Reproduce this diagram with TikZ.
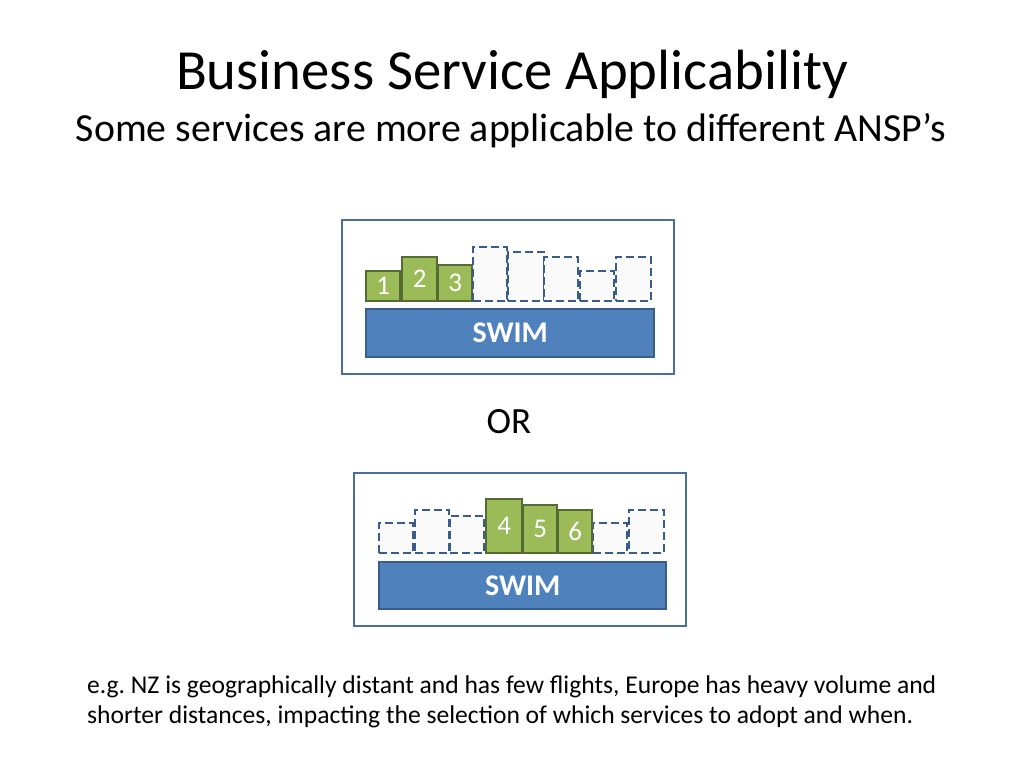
\documentclass[tikz,border=0pt]{standalone}
\usepackage{fontspec}
\setmainfont{Carlito}
\usetikzlibrary{positioning}
\definecolor{swimblue}{RGB}{79,129,189}
\definecolor{swimedge}{RGB}{56,93,138}
\definecolor{svcgreen}{RGB}{155,187,89}
\definecolor{svcedge}{RGB}{84,107,50}
\definecolor{frameblue}{RGB}{74,110,155}
\tikzset{
  frame/.style={draw=frameblue, line width=2.2pt, fill=white, anchor=north west, inner sep=0pt},
  swimbar/.style={draw=swimedge, line width=2.4pt, fill=swimblue, anchor=north west, inner sep=0pt,
    text=white, font=\fontsize{30}{34}\selectfont\bfseries},
  svc/.style={draw=svcedge, line width=2.4pt, fill=svcgreen, anchor=south west, inner sep=0pt,
    text=white, font=\fontsize{27}{30}\selectfont},
  slot/.style={draw=swimedge, line width=2.4pt, dash pattern=on 8pt off 4pt, fill=black!2,
    anchor=south west, inner sep=0pt}
}
\begin{document}
\begin{tikzpicture}[x=1pt, y=-1pt]
\useasboundingbox (0,0) rectangle (1024,768);

% heading
\node (title) at (512,74) {\fontsize{56.7}{64}\selectfont Business Service Applicability};
\node (subtitle) at (511,131) {\fontsize{39.8}{46}\selectfont Some services are more applicable to different ANSP’s};

% first option
\node[frame, minimum width=332pt, minimum height=154pt] (boxa) at (341,219) {};
\node[swimbar, minimum width=288pt, minimum height=48pt] (swima) at (365,308) {SWIM};
\foreach \n/\x/\w/\h in {1/365/34/30, 2/401/35/44, 3/437/34/36}
  \node[svc, minimum width=\w pt, minimum height=\h pt] (a\n) at (\x,302) {\n};
\foreach \n/\x/\w/\h in {4/472/34/54, 5/507/36/49, 6/543/34/44, 7/579/34/30, 8/615/35/44}
  \node[slot, minimum width=\w pt, minimum height=\h pt] (a\n) at (\x,302) {};

\node (or) at (509,422) {\fontsize{37}{42}\selectfont OR};

% second option
\node[frame, minimum width=332pt, minimum height=153pt] (boxb) at (353,472) {};
\node[swimbar, minimum width=287pt, minimum height=47pt] (swimb) at (378,561) {SWIM};
\foreach \n/\x/\w/\h in {1/378/34/30, 2/414/34/43, 3/449/34/37, 7/592/34/30, 8/628/35/43}
  \node[slot, minimum width=\w pt, minimum height=\h pt] (b\n) at (\x,554) {};
\foreach \n/\x/\w/\h in {4/485/36/54, 5/522/34/48, 6/557/34/43}
  \node[svc, minimum width=\w pt, minimum height=\h pt] (b\n) at (\x,554) {\n};

% note
\node[anchor=north west, align=left, inner sep=0pt, font=\fontsize{25.6}{30}\selectfont] (note) at (87,676)
  {e.g.\ NZ is geographically distant and has few flights, Europe has heavy volume and\\
   shorter distances, impacting the selection of which services to adopt and when.};
\end{tikzpicture}
\end{document}
